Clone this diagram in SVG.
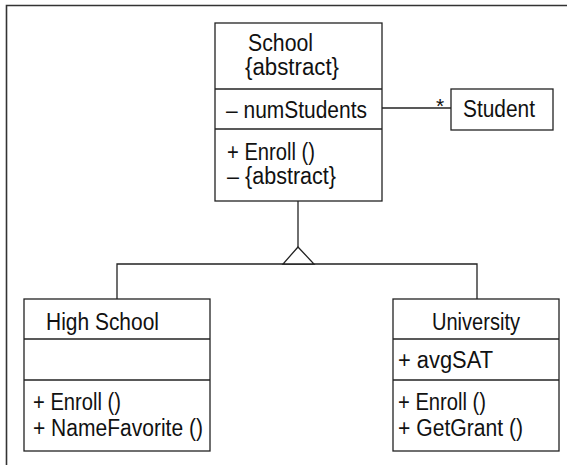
<svg xmlns="http://www.w3.org/2000/svg" width="567" height="465" viewBox="0 0 567 465">
<style>
.box{fill:#fff;stroke:#222;stroke-width:1.3}
.ln{fill:none;stroke:#222;stroke-width:1.3}
text{font-family:"Liberation Sans",Arial,sans-serif;font-size:23px;fill:#111}
</style>
<rect x="0" y="0" width="567" height="465" fill="#fff"/>
<path d="M6.5,465 V5.5 H567" fill="none" stroke="#333" stroke-width="1.6"/>
<g id="connectors">
<line class="ln" x1="382" y1="108" x2="451" y2="108"/>
<text x="440" y="113" text-anchor="middle" style="font-size:21px">*</text>
<line class="ln" x1="298" y1="201" x2="298" y2="247"/>
<path class="ln" d="M117,299 V264 H477 V299"/>
<polygon points="298,247 283,264 314,264" fill="#fff" stroke="#222" stroke-width="1.3"/>
</g>
<g id="school">
<rect class="box" x="215" y="23" width="167" height="178"/>
<line class="ln" x1="215" y1="89" x2="382" y2="89"/>
<line class="ln" x1="215" y1="129" x2="382" y2="129"/>
<text x="248" y="51" textLength="65" lengthAdjust="spacingAndGlyphs">School</text>
<text x="245" y="75" textLength="94" lengthAdjust="spacingAndGlyphs">{abstract}</text>
<text x="226" y="118" textLength="141" lengthAdjust="spacingAndGlyphs">– numStudents</text>
<text x="227" y="160" textLength="88" lengthAdjust="spacingAndGlyphs">+ Enroll ()</text>
<text x="227" y="184" textLength="109" lengthAdjust="spacingAndGlyphs">– {abstract}</text>
</g>
<g id="student">
<rect class="box" x="451" y="89" width="102" height="41"/>
<text x="463" y="117" textLength="72" lengthAdjust="spacingAndGlyphs">Student</text>
</g>
<g id="highschool">
<rect class="box" x="24" y="299" width="186" height="152"/>
<line class="ln" x1="24" y1="339" x2="210" y2="339"/>
<line class="ln" x1="24" y1="380" x2="210" y2="380"/>
<text x="46" y="330" textLength="113" lengthAdjust="spacingAndGlyphs">High School</text>
<text x="33" y="410" textLength="88" lengthAdjust="spacingAndGlyphs">+ Enroll ()</text>
<text x="33" y="436" textLength="170" lengthAdjust="spacingAndGlyphs">+ NameFavorite ()</text>
</g>
<g id="university">
<rect class="box" x="393" y="299" width="166" height="152"/>
<line class="ln" x1="393" y1="339" x2="559" y2="339"/>
<line class="ln" x1="393" y1="380" x2="559" y2="380"/>
<text x="432" y="330" textLength="88" lengthAdjust="spacingAndGlyphs">University</text>
<text x="398" y="368" textLength="95" lengthAdjust="spacingAndGlyphs">+ avgSAT</text>
<text x="398" y="410" textLength="88" lengthAdjust="spacingAndGlyphs">+ Enroll ()</text>
<text x="398" y="436" textLength="125" lengthAdjust="spacingAndGlyphs">+ GetGrant ()</text>
</g>
</svg>
